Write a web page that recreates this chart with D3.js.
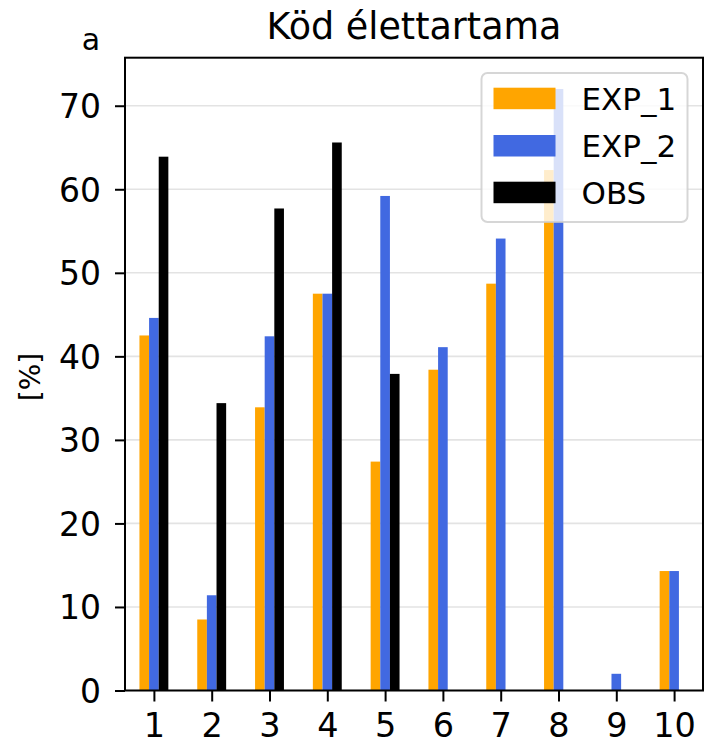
<!DOCTYPE html>
<html>
<head>
<meta charset="utf-8">
<script src="https://cdn.jsdelivr.net/npm/d3@7/dist/d3.min.js"></script>
<style>
  html, body { margin: 0; padding: 0; background: #fff; }
  text { font-family: "DejaVu Sans", sans-serif; fill: #000; }
</style>
</head>
<body>
<script>
// ---- data ----
const categories = [1, 2, 3, 4, 5, 6, 7, 8, 9, 10];
const exp1 = [42.5, 8.5, 33.9, 47.5, 27.4, 38.4, 48.7, 62.3, 0, 14.3];
const exp2 = [44.6, 11.4, 42.4, 47.5, 59.2, 41.1, 54.1, 72.0, 2.0, 14.3];
const obs  = [63.9, 34.4, 57.7, 65.6, 37.9, 0, 0, 0, 0, 0];
const seriesNames = ["EXP_1", "EXP_2", "OBS"];
const seriesColors = ["#FFA500", "#4169E1", "#000000"];
const yTicks = [0, 10, 20, 30, 40, 50, 60, 70];
const titleText = "Köd élettartama";
const yLabelText = "[%]";
const panelLabel = "a";

(function () {
const W = 706, H = 746;
const pLeft = 125, pRight = 703, pTop = 57.7, pBottom = 690.5;

const svg = d3.select("body").append("svg").attr("width", W).attr("height", H);

const x = d3.scaleLinear().domain([0.5, 10.5]).range([pLeft, pRight]);
const y = d3.scaleLinear().domain([0, 75.75]).range([pBottom, pTop]);

// grid
svg.append("g").selectAll("line").data(yTicks).join("line")
  .attr("x1", pLeft).attr("x2", pRight)
  .attr("y1", d => y(d)).attr("y2", d => y(d))
  .attr("stroke", "#b0b0b0").attr("stroke-opacity", 0.35).attr("stroke-width", 1.6);

// bars
const series = [exp1, exp2, obs];
const bw = 1 / 6;
const offsets = [-1 / 6, 0, 1 / 6];
series.forEach((vals, si) => {
  svg.append("g").selectAll("rect").data(categories).join("rect")
    .attr("x", (c) => x(c + offsets[si] - bw / 2))
    .attr("width", (c) => x(c + offsets[si] + bw / 2) - x(c + offsets[si] - bw / 2))
    .attr("y", (c, i) => y(vals[i]))
    .attr("height", (c, i) => y(0) - y(vals[i]))
    .attr("fill", seriesColors[si]);
});

// axes
const yAxis = d3.axisLeft(y).tickValues(yTicks).tickSize(10).tickPadding(14).tickFormat(d3.format("d"));
const gy = svg.append("g").attr("transform", `translate(${pLeft},0)`).call(yAxis);
gy.select(".domain").remove();
gy.selectAll(".tick line").attr("stroke", "#000").attr("stroke-width", 2);
gy.selectAll(".tick text").attr("font-size", 33).attr("font-family", "DejaVu Sans").attr("dy", "0.36em");

const xAxis = d3.axisBottom(x).tickValues(categories).tickSize(11).tickPadding(10).tickFormat(d3.format("d"));
const gx = svg.append("g").attr("transform", `translate(0,${pBottom})`).call(xAxis);
gx.select(".domain").remove();
gx.selectAll(".tick line").attr("stroke", "#000").attr("stroke-width", 2);
gx.selectAll(".tick text").attr("font-size", 33.5).attr("font-family", "DejaVu Sans").attr("dy", "0.76em");

// spines
svg.append("rect").attr("x", pLeft).attr("y", pTop)
  .attr("width", pRight - pLeft).attr("height", pBottom - pTop)
  .attr("fill", "none").attr("stroke", "#000").attr("stroke-width", 2);

// title and labels
svg.append("text").attr("x", (pLeft + pRight) / 2).attr("y", 38.5)
  .attr("text-anchor", "middle").attr("font-size", 36.5).text(titleText);
svg.append("text").attr("x", 91).attr("y", 50)
  .attr("text-anchor", "middle").attr("font-size", 30).text(panelLabel);
svg.append("text").attr("transform", "translate(40,377) rotate(-90)")
  .attr("text-anchor", "middle").attr("font-size", 28).text(yLabelText);

// legend
const lg = svg.append("g");
lg.append("rect").attr("x", 481.5).attr("y", 73).attr("width", 206).attr("height", 149)
  .attr("rx", 6).attr("fill", "#fff").attr("fill-opacity", 0.8)
  .attr("stroke", "#cccccc").attr("stroke-opacity", 0.8).attr("stroke-width", 2);
const rowY = [87.7, 135, 181.7];
seriesNames.forEach((name, i) => {
  lg.append("rect").attr("x", 493.5).attr("y", rowY[i]).attr("width", 62).attr("height", 21.5)
    .attr("fill", seriesColors[i]);
  lg.append("text").attr("x", 581.5).attr("y", rowY[i] + 10.75).attr("dy", "0.36em")
    .attr("font-size", 31).text(name);
});
})();
</script>
</body>
</html>
